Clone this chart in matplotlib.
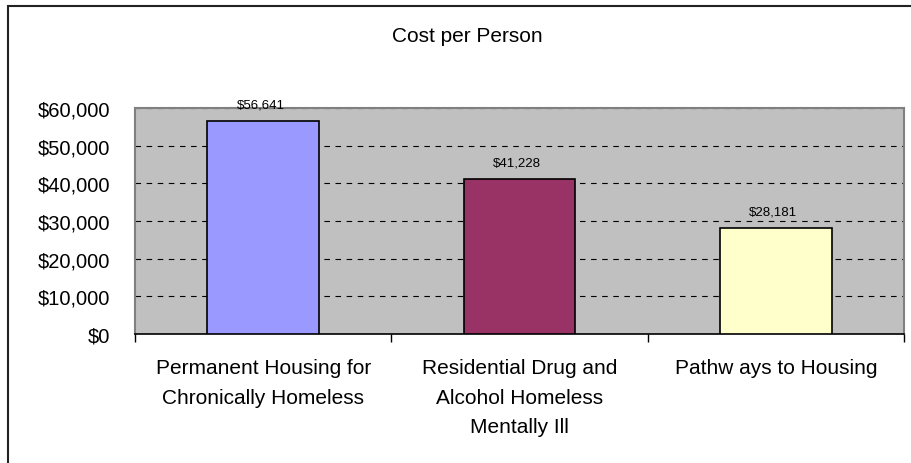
import numpy as np
import matplotlib
matplotlib.use('Agg')
import matplotlib.pyplot as plt
from matplotlib.patches import Rectangle

plt.rcParams['font.family'] = ['Liberation Sans', 'DejaVu Sans']

categories = ['Permanent Housing for\nChronically Homeless',
              'Residential Drug and\nAlcohol Homeless\nMentally Ill',
              'Pathw ays to Housing']
costs = [56641, 41228, 28181]
bar_colors = ['#9999FF', '#993366', '#FFFFCC']
yticks = [0, 10000, 20000, 30000, 40000, 50000, 60000]

W, H = 912, 464
fig = plt.figure(figsize=(W/100, H/100), dpi=100)

# outer chart border (right/bottom edges fall outside the picture)
fig.patches.append(Rectangle((8/W, -0.1), 1.2, 1.1 - 7/H, transform=fig.transFigure,
                             fill=False, edgecolor='#222222', lw=1.5))

x0, x1, ytop, ybot = 135, 904, 109, 335
ax = fig.add_axes([x0/W, 1 - ybot/H, (x1 - x0)/W, (ybot - ytop)/H])
ax.set_facecolor('#C0C0C0')

x = np.arange(len(categories))
ax.bar(x, costs, width=0.436, color=bar_colors, edgecolor='black', lw=1.2, zorder=3)
for xi, v in zip(x, costs):
    ax.text(xi - 0.01, v + 2800, f'${v:,}', ha='center', va='bottom', fontsize=9.5)

ax.set_xlim(-0.5, len(categories) - 0.5)
ax.set_ylim(0, 60000)
ax.set_yticks(yticks)
ax.set_yticklabels([f'${v:,}' for v in yticks], fontsize=14.5)
ax.tick_params(axis='y', length=0, pad=18)
ax.yaxis.grid(True, color='black', ls=(0, (5, 5)), lw=0.8)
ax.set_axisbelow(True)

# category labels centred, tick marks at the boundaries
ax.set_xticks(np.arange(-0.5, len(categories)))
ax.set_xticklabels([])
ax.tick_params(axis='x', length=6, width=1, color='black', direction='out')
for xi, lab in zip(x, categories):
    ax.text(xi, -0.107, lab, transform=ax.get_xaxis_transform(), ha='center', va='top',
            fontsize=15, linespacing=1.7)

for s in ['left', 'top', 'right']:
    ax.spines[s].set_color('#808080')
    ax.spines[s].set_linewidth(1.5)
ax.spines['bottom'].set_color('black')
ax.spines['bottom'].set_linewidth(1.2)

fig.text(467/W, 1 - 37/H, 'Cost per Person', ha='center', va='center', fontsize=15)

fig.savefig('out.png', dpi=100)
